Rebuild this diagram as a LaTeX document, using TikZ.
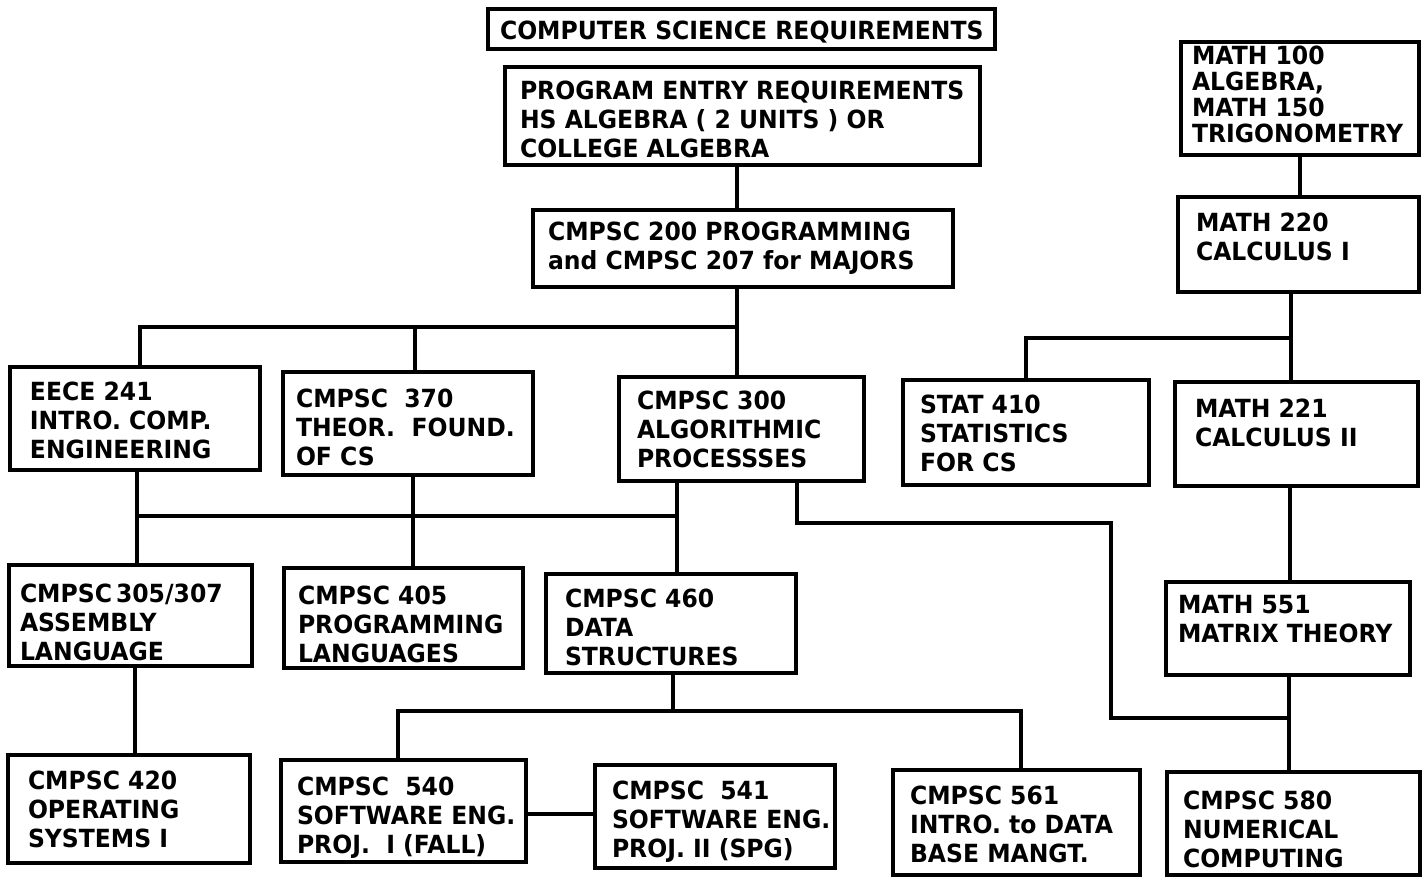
\documentclass[tikz,border=0pt]{standalone}
\usepackage{fontspec}
\usetikzlibrary{calc}
\newfontfamily\crsfont{DejaVu Sans}[FakeStretch=0.94]
\tikzset{
  crsbox/.style={draw=black, line width=4pt, inner sep=0pt, outer sep=0pt, fill=white},
  crstext/.style={inner sep=0pt, outer sep=0pt, align=left, font=\crsfont\bfseries\fontsize{25}{29}\selectfont},
  link/.style={draw=black, line width=3.5pt}
}
\newcommand\crs[8]{%
  \node[crsbox, minimum width={(#4)-(#2)}, minimum height={(#5)-(#3)}, anchor=north west] (#1) at (#2,#3) {};
  \node[crstext, anchor=north west] (#1-t) at ($(#1.north west)+(#6,#7-3)$) {\rule{0pt}{21pt}#8};
}
\begin{document}
\begin{tikzpicture}[x=1pt,y=-1pt]
\useasboundingbox[fill=white] (0,0) rectangle (1428,878);

% boxes
\crs{title}{488}{9}{995}{49}{12}{12}{COMPUTER SCIENCE REQUIREMENTS}
\crs{entry}{505}{67}{980}{165}{15}{14}{PROGRAM ENTRY REQUIREMENTS\\HS ALGEBRA ( 2 UNITS ) OR\\COLLEGE ALGEBRA}
\crs{c200}{533}{210}{953}{287}{15}{12}{CMPSC 200 PROGRAMMING\\and CMPSC 207 for MAJORS}
\crs{m100}{1181}{42}{1419}{155}{11}{4}{MATH 100\\[-3pt]ALGEBRA,\\[-3pt]MATH 150\\[-3pt]TRIGONOMETRY}
\crs{m220}{1178}{197}{1419}{292}{18}{16}{MATH 220\\CALCULUS I}
\crs{eece}{10}{367}{260}{470}{20}{15}{EECE 241\\INTRO. COMP.\\ENGINEERING}
\crs{c370}{283}{372}{533}{475}{13}{17}{CMPSC~ 370\\THEOR.~ FOUND.\\OF CS}
\crs{c300}{619}{377}{864}{481}{18}{14}{CMPSC 300\\ALGORITHMIC\\PROCESSSES}
\crs{stat}{903}{380}{1149}{485}{17}{15}{STAT 410\\STATISTICS\\FOR CS}
\crs{m221}{1175}{382}{1418}{486}{20}{17}{MATH 221\\CALCULUS II}
\crs{c305}{9}{565}{252}{666}{11}{19}{CMPSC\kern4pt305/307\\ASSEMBLY\\LANGUAGE}
\crs{c405}{284}{568}{523}{668}{14}{18}{CMPSC 405\\PROGRAMMING\\LANGUAGES}
\crs{c460}{546}{574}{796}{673}{19}{15}{CMPSC 460\\DATA\\STRUCTURES}
\crs{m551}{1166}{582}{1410}{675}{12}{13}{MATH 551\\MATRIX THEORY}
\crs{c420}{8}{755}{250}{863}{20}{16}{CMPSC 420\\OPERATING\\SYSTEMS I}
\crs{c540}{281}{760}{526}{862}{16}{17}{CMPSC~ 540\\SOFTWARE ENG.\\PROJ.~ I (FALL)}
\crs{c541}{595}{765}{835}{868}{17}{16}{CMPSC~ 541\\SOFTWARE ENG.\\PROJ. II (SPG)}
\crs{c561}{893}{770}{1140}{875}{17}{16}{CMPSC 561\\INTRO. to DATA\\BASE MANGT.}
\crs{c580}{1167}{772}{1420}{875}{16}{19}{CMPSC 580\\NUMERICAL\\COMPUTING}

% column / bus coordinates
\coordinate (v737) at (737,0);
\coordinate (bus1) at (737,327);
\coordinate (v140) at (140,0);
\coordinate (v415) at (415,0);
\coordinate (bus2) at (677,516);
\coordinate (v137) at (137,0);
\coordinate (v413) at (413,0);
\coordinate (v797) at (797,0);
\coordinate (turn1) at (1111,523);
\coordinate (turn2) at (1111,718);
\coordinate (v1300) at (1300,0);
\coordinate (bus3) at (1291,338);
\coordinate (v1026) at (1026,0);
\coordinate (v1290) at (1290,0);
\coordinate (v1289) at (1289,0);
\coordinate (v135) at (135,0);
\coordinate (bus4) at (673,711);
\coordinate (v398) at (398,0);
\coordinate (v1021) at (1021,0);
\coordinate (r814) at (0,814);

% connectors
\draw[link] (entry.south -| v737) -- (c200.north -| v737);
\draw[link] (c200.south -| v737) -- (c300.north -| v737);
\draw[link] (eece.north -| v140) |- (bus1);
\draw[link] (c370.north -| v415) -- (v415 |- bus1);
\draw[link] (eece.south -| v137) -- (c305.north -| v137);
\draw[link] (c370.south -| v413) -- (c405.north -| v413);
\draw[link] (c300.south -| bus2) -- (c460.north -| bus2);
\draw[link] (v137 |- bus2) -- (bus2);
\draw[link] (c300.south -| v797) |- (turn1) -- (turn2) -- (turn2 -| v1289);
\draw[link] (m100.south -| v1300) -- (m220.north -| v1300);
\draw[link] (m220.south -| bus3) -- (m221.north -| bus3);
\draw[link] (stat.north -| v1026) |- (bus3);
\draw[link] (m221.south -| v1290) -- (m551.north -| v1290);
\draw[link] (m551.south -| v1289) -- (c580.north -| v1289);
\draw[link] (c305.south -| v135) -- (c420.north -| v135);
\draw[link] (c460.south -| bus4) -- (bus4);
\draw[link] (c540.north -| v398) |- (bus4);
\draw[link] (bus4) -| (c561.north -| v1021);
\draw[link] (c540.east |- r814) -- (c541.west |- r814);
\end{tikzpicture}
\end{document}
